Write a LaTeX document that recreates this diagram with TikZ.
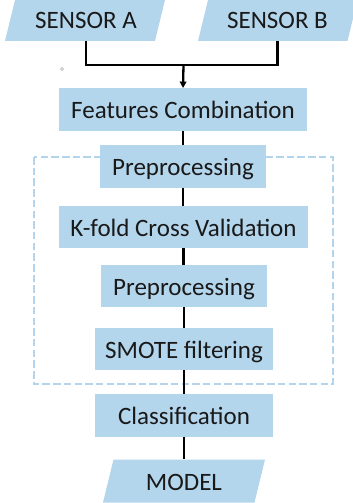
\documentclass[tikz,border=0pt]{standalone}
\usepackage{fontspec}
\setmainfont{Carlito}
\usetikzlibrary{arrows.meta}
\definecolor{boxblue}{RGB}{180,214,237}
\definecolor{frameblue}{RGB}{178,212,237}

\begin{document}
\begin{tikzpicture}[x=1pt,y=-1pt,
  txtbox/.style={inner sep=0pt, text height=20pt, text depth=2pt,
    font=\fontsize{25}{30}\selectfont, text=black!90},
  stepbox/.style={txtbox, fill=boxblue, minimum width=#1, minimum height=42.5pt},
  iobox/.style={txtbox, minimum width=#1, minimum height=43pt},
  conn/.style={line width=2.3pt, black},
  loopframe/.style={draw=frameblue, line width=2.2pt, dash pattern=on 7.5pt off 3.2pt}]
\useasboundingbox (0,0) rectangle (353,503);
\clip (0,0) rectangle (353,503);

% input / output parallelograms
\fill[boxblue] (5,41) -- (15.5,-2) -- (165.5,-2) -- (155,41) -- cycle;
\fill[boxblue] (198,41) -- (208.5,-2) -- (358,-2) -- (347.5,41) -- cycle;
\fill[boxblue] (103,502.5) -- (113.5,459.5) -- (265,459.5) -- (254.5,502.5) -- cycle;

\node[iobox=140pt] (sa) at (86,19.5) {SENSOR A};
\node[iobox=140pt] (sb) at (277.5,19.5) {SENSOR B};
\node[iobox=140pt] (model) at (184,481) {MODEL};

% processing steps
\node[stepbox=248pt] (fc)  at (183,109.5) {Features Combination};
\node[stepbox=166pt] (pp1) at (183,166.5) {Preprocessing};
\node[stepbox=249pt] (kf)  at (183.5,227) {K-fold Cross Validation};
\node[stepbox=166pt] (pp2) at (184,286) {Preprocessing};
\node[stepbox=178pt] (sm)  at (184,349) {SMOTE filtering};
\node[stepbox=178pt] (cl)  at (184,415.5) {Classification};

% dashed frame around the validation loop
\draw[loopframe] (34,157) rectangle (333,384);

% connectors
\coordinate (join) at (183.5,65);
\draw[conn] (sa.south) |- (join) -| (sb.south);
\draw[conn, -{Triangle[length=6.5pt,width=6.5pt]}] (join) -- (fc.north);
\draw[conn] (fc.south) -- (fc.south |- pp1.north);
\draw[conn] (pp1.south) -- (pp1.south |- kf.north);
\draw[conn] (kf.south) -- (kf.south |- pp2.north);
\draw[conn] (pp2.south) -- (pp2.south |- sm.north);
\draw[conn] (sm.south) -- (cl.north);
\draw[conn] (cl.south) -- (model.north);

% small marker dot
\draw[black!35, line width=0.6pt] (62,69) circle (1.5pt);
\end{tikzpicture}
\end{document}
